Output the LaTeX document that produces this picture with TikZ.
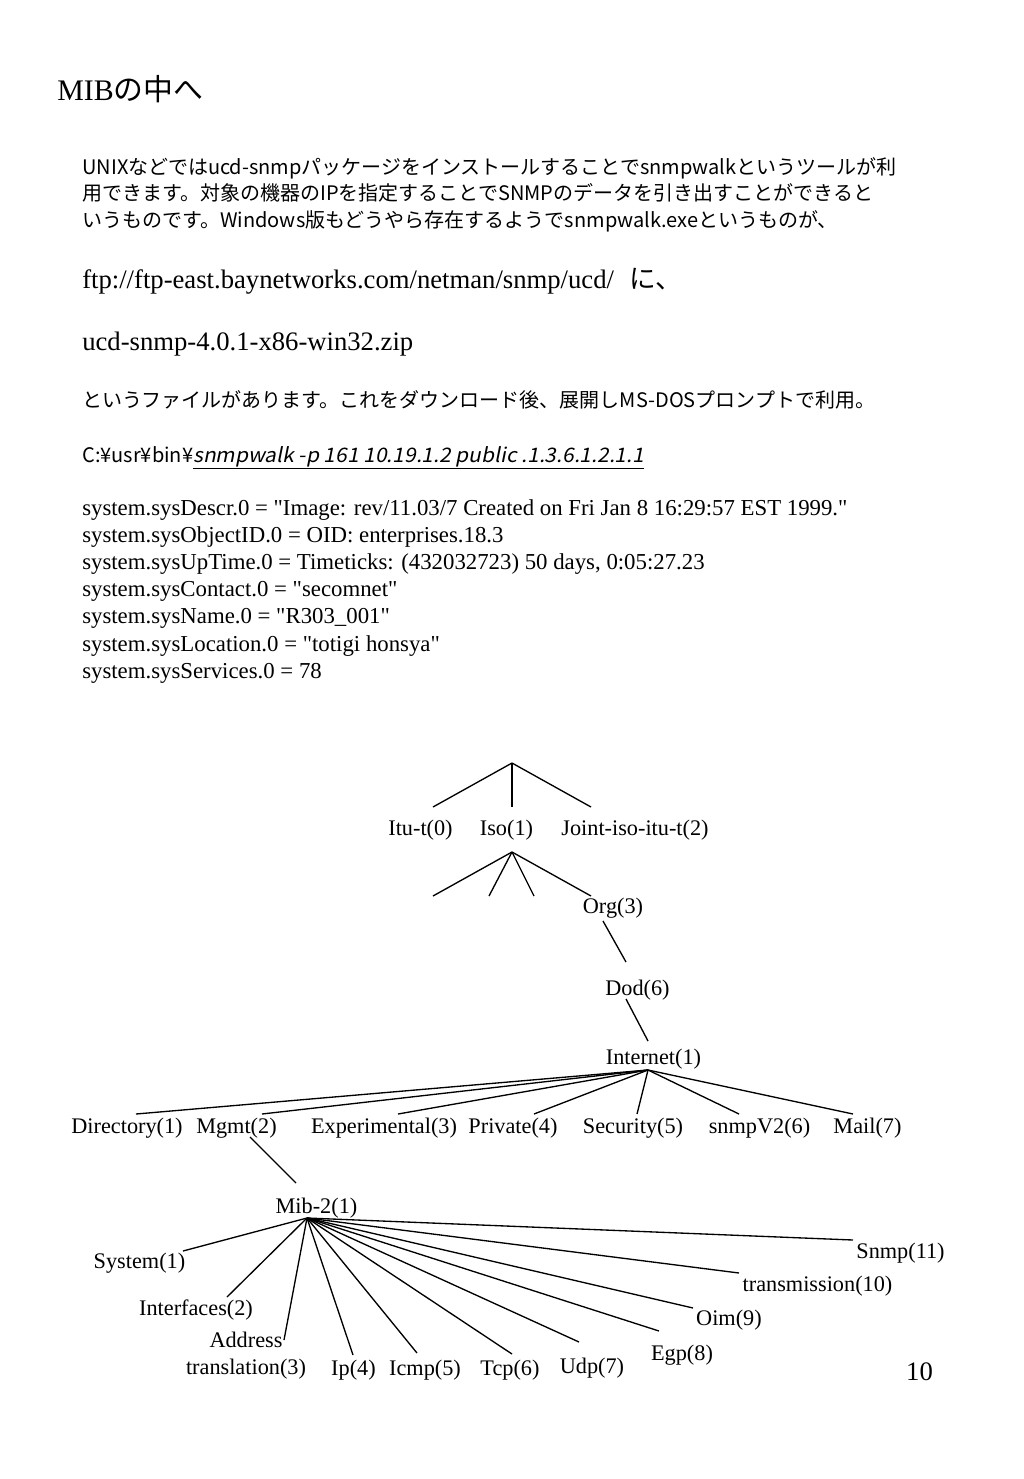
\documentclass[tikz,border=0pt]{standalone}
\usepackage{fontspec}
\newfontfamily\tms{Liberation Serif}
\newfontfamily\jp{Noto Sans CJK JP}
\newfontfamily\jpit{Noto Sans CJK JP}[FakeSlant=0.2, FakeStretch=1.05]

\begin{document}
\begin{tikzpicture}[x=0.75pt, y=-0.75pt,
        lbl/.style={font=\tms\fontsize{16.7}{20}\selectfont, inner sep=0pt, anchor=base},
        txt/.style={font=\tms\fontsize{17.1}{20}\selectfont, inner sep=0pt, anchor=base west},
        big/.style={font=\tms\fontsize{20}{24}\selectfont, inner sep=0pt, anchor=base west},
        jtxt/.style={font=\jp\fontsize{15}{18}\selectfont, inner sep=0pt, anchor=base west},
        branch/.style={line width=1pt}]
        \path[use as bounding box] (0,0) rectangle (1024,1479);

        % page text
        \node[txt, font=\fontsize{22.4}{26}\selectfont] (title) at (57,100) {{\tms MIB}{\jp の中へ}};
        \node[jtxt] (p1) at (82,174) {UNIXなどではucd-snmpパッケージをインストールすることでsnmpwalkというツールが利};
        \node[jtxt] (p2) at (82,200) {用できます。対象の機器のIPを指定することでSNMPのデータを引き出すことができると};
        \node[jtxt] (p3) at (82,227) {いうものです。Windows版もどうやら存在するようでsnmpwalk.exeというものが、};
        \node[big] (ftp) at (82,288) {ftp://ftp-east.baynetworks.com/netman/snmp/ucd/\hspace{0.6em}{\jp に、}};
        \node[big] (zip) at (82,350) {ucd-snmp-4.0.1-x86-win32.zip};
        \node[jtxt] (p4) at (82,407) {というファイルがあります。これをダウンロード後、展開しMS-DOSプロンプトで利用。};
        \node[jtxt] (cmd) at (82,462) {C:¥usr¥bin¥\underline{\jpit snmpwalk -p 161 10.19.1.2 public .1.3.6.1.2.1.1}};
        \foreach \t [count=\i] in {
            {system.sysDescr.0 = "Image: rev/11.03/7 Created on Fri Jan 8 16:29:57 EST 1999."},
            {system.sysObjectID.0 = OID: enterprises.18.3},
            {system.sysUpTime.0 = Timeticks: (432032723) 50 days, 0:05:27.23},
            {system.sysContact.0 = "secomnet"},
            {system.sysName.0 = "R303\_001"},
            {system.sysLocation.0 = "totigi honsya"},
            {system.sysServices.0 = 78}}
            \node[txt] (s\i) at (82,515+27.2*\i-27.2) {\t};

        % tree labels
        \node[lbl] (itu) at (420.5,835) {Itu-t(0)};
        \node[lbl] (iso) at (506.5,835) {Iso(1)};
        \node[lbl] (joint) at (635,835) {Joint-iso-itu-t(2)};
        \node[lbl] (org) at (613,913) {Org(3)};
        \node[lbl] (dod) at (637.5,995) {Dod(6)};
        \node[lbl] (inet) at (653.5,1064) {Internet(1)};
        \node[lbl] (dir) at (127,1133) {Directory(1)};
        \node[lbl] (mgmt) at (236.5,1133) {Mgmt(2)};
        \node[lbl] (exper) at (384,1133) {Experimental(3)};
        \node[lbl] (priv) at (513,1133) {Private(4)};
        \node[lbl] (sec) at (633,1133) {Security(5)};
        \node[lbl] (snmpv) at (759.5,1133) {snmpV2(6)};
        \node[lbl] (mail) at (867.5,1133) {Mail(7)};
        \node[lbl] (mib) at (316.5,1213) {Mib-2(1)};
        \node[lbl] (sys) at (139.5,1268) {System(1)};
        \node[lbl] (ifs) at (196,1315) {Interfaces(2)};
        \node[lbl, anchor=center, align=center, font=\tms\fontsize{16.7}{20.4}\selectfont] (addr) at (246,1356) {Address\\translation(3)};
        \node[lbl] (ip) at (353.5,1375) {Ip(4)};
        \node[lbl] (icmp) at (425,1375) {Icmp(5)};
        \node[lbl] (tcp) at (510,1375) {Tcp(6)};
        \node[lbl] (udp) at (592,1373) {Udp(7)};
        \node[lbl] (egp) at (682,1360) {Egp(8)};
        \node[lbl] (oim) at (729,1325) {Oim(9)};
        \node[lbl] (trans) at (817.5,1291) {transmission(10)};
        \node[lbl] (snmp) at (900.5,1258) {Snmp(11)};
        \node[lbl, font=\tms\fontsize{20}{24}\selectfont] (page) at (919.5,1380) {10};

        % branch points and line ends
        \foreach \n/\x/\y in {root/512/763, itu-t/433/807, iso-t/512/807, joint-t/591/807,
            iso-a/512/852, x1-t/433/896, x2-t/489/896, x3-t/534/896, org-t/591/896,
            org-a/603/921, dod-t/626/962, dod-a/626/999, inet-t/648/1041,
            inet-a/648/1070, dir-t/136/1114, mgmt-t/262/1114, exper-t/398/1114, priv-t/534/1114,
            sec-t/637/1114, snmpv-t/739/1114, mail-t/853/1114,
            mgmt-a/250/1137, mib-t/296/1183,
            mib-a/307/1218, sys-t/183/1251, ifs-t/227/1297, addr-t/284/1340, ip-t/353/1355,
            icmp-t/417/1353, tcp-t/512/1354, udp-t/579/1342, egp-t/659/1331, oim-t/693/1308,
            trans-t/739/1273, snmp-t/853/1240}
            \coordinate (\n) at (\x,\y);

        % connectors
        \foreach \c in {itu-t, iso-t, joint-t}
            \draw[branch] (root) -- (\c);
        \foreach \c in {x1-t, x2-t, x3-t, org-t}
            \draw[branch] (iso-a) -- (\c);
        \draw[branch] (org-a) -- (dod-t);
        \draw[branch] (dod-a) -- (inet-t);
        \foreach \c in {dir-t, mgmt-t, exper-t, priv-t, sec-t, snmpv-t, mail-t}
            \draw[branch] (inet-a) -- (\c);
        \draw[branch] (mgmt-a) -- (mib-t);
        \foreach \c in {sys-t, ifs-t, addr-t, ip-t, icmp-t, tcp-t, udp-t, egp-t, oim-t, trans-t, snmp-t}
            \draw[branch] (mib-a) -- (\c);
    \end{tikzpicture}
\end{document}
